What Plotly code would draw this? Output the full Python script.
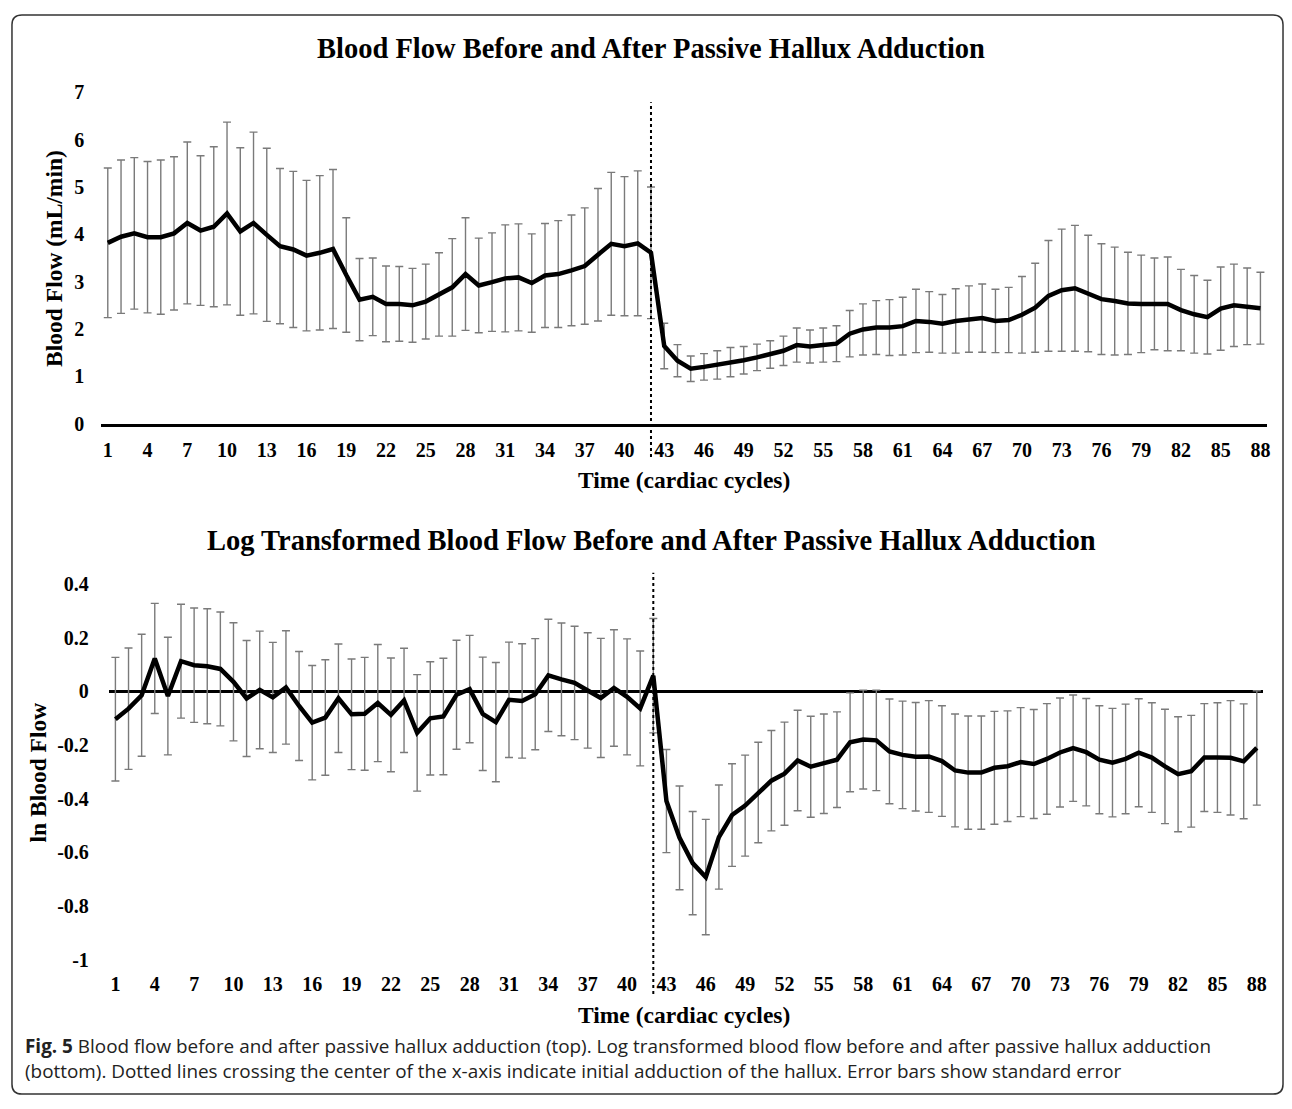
import plotly.graph_objects as go

# ---------------- data ----------------
CYCLES = list(range(1, 89))
X_TICKS = [1, 4, 7, 10, 13, 16, 19, 22, 25, 28, 31, 34, 37, 40, 43, 46, 49, 52, 55, 58,
           61, 64, 67, 70, 73, 76, 79, 82, 85, 88]
ADDUCTION_CYCLE = 42

FLOW_MEAN = [3.82, 3.95, 4.02, 3.94, 3.94, 4.02, 4.24, 4.08, 4.16, 4.44,
             4.06, 4.24, 3.99, 3.75, 3.68, 3.55, 3.61, 3.69, 3.14, 2.62,
             2.68, 2.53, 2.53, 2.50, 2.58, 2.73, 2.88, 3.16, 2.92, 2.99,
             3.07, 3.09, 2.97, 3.13, 3.16, 3.24, 3.33, 3.57, 3.80, 3.75,
             3.81, 3.61, 1.64, 1.33, 1.16, 1.20, 1.24, 1.30, 1.34, 1.40,
             1.46, 1.54, 1.66, 1.63, 1.66, 1.69, 1.90, 1.99, 2.03, 2.03,
             2.06, 2.17, 2.15, 2.11, 2.17, 2.21, 2.23, 2.17, 2.19, 2.30,
             2.45, 2.70, 2.82, 2.86, 2.75, 2.63, 2.59, 2.54, 2.53, 2.53,
             2.53, 2.40, 2.31, 2.25, 2.43, 2.50, 2.48, 2.44]
FLOW_SE = [1.58, 1.62, 1.60, 1.60, 1.63, 1.62, 1.71, 1.58, 1.69, 1.93,
           1.77, 1.92, 1.83, 1.64, 1.65, 1.59, 1.63, 1.68, 1.21, 0.87,
           0.82, 0.80, 0.79, 0.78, 0.79, 0.88, 1.03, 1.19, 1.00, 1.04,
           1.13, 1.13, 1.04, 1.10, 1.13, 1.17, 1.23, 1.40, 1.51, 1.47,
           1.53, 1.39, 0.48, 0.34, 0.27, 0.28, 0.30, 0.31, 0.29, 0.28,
           0.29, 0.31, 0.36, 0.35, 0.36, 0.38, 0.49, 0.54, 0.57, 0.59,
           0.61, 0.67, 0.64, 0.62, 0.68, 0.70, 0.72, 0.67, 0.69, 0.81,
           0.94, 1.17, 1.29, 1.33, 1.23, 1.17, 1.14, 1.08, 1.03, 0.97,
           0.99, 0.86, 0.82, 0.78, 0.88, 0.87, 0.81, 0.76]

LN_MEAN = [-0.104, -0.065, -0.015, 0.122, -0.018, 0.112, 0.097, 0.093, 0.083, 0.035,
           -0.027, 0.005, -0.023, 0.014, -0.055, -0.117, -0.098, -0.026, -0.086, -0.084,
           -0.044, -0.088, -0.034, -0.155, -0.101, -0.094, -0.013, 0.008, -0.084, -0.115,
           -0.032, -0.036, -0.011, 0.059, 0.044, 0.031, 0.003, -0.025, 0.012, -0.021,
           -0.064, 0.058, -0.409, -0.546, -0.640, -0.692, -0.543, -0.461, -0.426, -0.377,
           -0.333, -0.307, -0.258, -0.281, -0.270, -0.255, -0.190, -0.180, -0.183, -0.224,
           -0.237, -0.244, -0.243, -0.260, -0.295, -0.303, -0.303, -0.285, -0.279, -0.264,
           -0.271, -0.252, -0.228, -0.212, -0.227, -0.255, -0.266, -0.252, -0.229, -0.247,
           -0.280, -0.309, -0.298, -0.247, -0.247, -0.248, -0.261, -0.211]
LN_SE = [0.230, 0.226, 0.227, 0.205, 0.219, 0.212, 0.213, 0.214, 0.212, 0.220,
         0.216, 0.219, 0.205, 0.211, 0.203, 0.213, 0.215, 0.202, 0.206, 0.210,
         0.218, 0.212, 0.194, 0.217, 0.211, 0.217, 0.203, 0.200, 0.211, 0.222,
         0.215, 0.213, 0.207, 0.209, 0.210, 0.211, 0.215, 0.222, 0.217, 0.216,
         0.214, 0.213, 0.192, 0.193, 0.192, 0.215, 0.194, 0.191, 0.188, 0.187,
         0.187, 0.192, 0.187, 0.188, 0.185, 0.178, 0.184, 0.184, 0.187, 0.195,
         0.200, 0.202, 0.208, 0.206, 0.210, 0.211, 0.211, 0.210, 0.206, 0.203,
         0.203, 0.206, 0.203, 0.198, 0.200, 0.201, 0.202, 0.204, 0.201, 0.204,
         0.213, 0.214, 0.208, 0.201, 0.204, 0.213, 0.214, 0.213]

TOP_Y_TICKS = [0, 1, 2, 3, 4, 5, 6, 7]
BOT_Y_TICKS = [-1, -0.8, -0.6, -0.4, -0.2, 0, 0.2, 0.4]
BOT_Y_LABELS = ["-1", "-0.8", "-0.6", "-0.4", "-0.2", "0", "0.2", "0.4"]

TITLE_TOP = "Blood Flow Before and After Passive Hallux Adduction"
TITLE_BOT = "Log Transformed Blood Flow Before and After Passive Hallux Adduction"
YTITLE_TOP = "Blood Flow (mL/min)"
YTITLE_BOT = "ln Blood Flow"
XTITLE = "Time (cardiac cycles)"
CAPTION_1 = ("<b>Fig. 5</b> Blood flow before and after passive hallux adduction (top). "
             "Log transformed blood flow before and after passive hallux adduction")
CAPTION_2 = ("(bottom). Dotted lines crossing the center of the x-axis indicate initial "
             "adduction of the hallux. Error bars show standard error")

# ---------------- layout helpers ----------------
W, H = 1292, 1109
SERIF = "Liberation Serif, Times New Roman, serif"
SANS = "Open Sans, Noto Sans, sans-serif"


def px(x):
    return x / W


def py(y):
    return 1 - y / H


ERR_COLOR = "#7a7a7a"
LINE_COLOR = "#000000"

fig = go.Figure()

# top chart: error bars, then mean line on top
fig.add_trace(go.Scatter(
    x=CYCLES, y=FLOW_MEAN, mode="markers", marker=dict(size=1, opacity=0),
    error_y=dict(type="data", array=FLOW_SE, visible=True, color=ERR_COLOR,
                 thickness=1.4, width=4),
    xaxis="x", yaxis="y", showlegend=False, hoverinfo="skip"))
fig.add_trace(go.Scatter(
    x=CYCLES, y=FLOW_MEAN, mode="lines", line=dict(color=LINE_COLOR, width=4.5),
    xaxis="x", yaxis="y", showlegend=False))

# bottom chart
fig.add_trace(go.Scatter(
    x=CYCLES, y=LN_MEAN, mode="markers", marker=dict(size=1, opacity=0),
    error_y=dict(type="data", array=LN_SE, visible=True, color=ERR_COLOR,
                 thickness=1.4, width=4),
    xaxis="x2", yaxis="y2", showlegend=False, hoverinfo="skip"))
fig.add_trace(go.Scatter(
    x=CYCLES, y=LN_MEAN, mode="lines", line=dict(color=LINE_COLOR, width=4.5),
    xaxis="x2", yaxis="y2", showlegend=False))

tick_font = dict(family=SERIF, size=20, color="#000000", weight="bold")
xtick_labels = [str(v) for v in X_TICKS]

fig.update_layout(
    width=W, height=H,
    margin=dict(l=0, r=0, t=0, b=0),
    paper_bgcolor="white", plot_bgcolor="white",
    showlegend=False,
    xaxis=dict(domain=[px(101.4), px(1270)], range=[0.5, 88.5], anchor="y",
               tickmode="array", tickvals=X_TICKS, ticktext=xtick_labels,
               showgrid=False, zeroline=False, showline=True, linecolor="#000000",
               linewidth=3, ticks="outside", ticklen=6, tickcolor="rgba(0,0,0,0)",
               tickfont=tick_font),
    yaxis=dict(domain=[py(421), py(83)], range=[0, 7], anchor="x",
               tickmode="array", tickvals=TOP_Y_TICKS,
               showgrid=False, zeroline=False, showline=False,
               ticks="outside", ticklen=12, tickcolor="rgba(0,0,0,0)",
               tickfont=tick_font),
    xaxis2=dict(domain=[px(109.1), px(1266.3)], range=[0.5, 88.5], anchor="y2",
                tickmode="array", tickvals=X_TICKS, ticktext=xtick_labels,
                showgrid=False, zeroline=False, showline=False,
                ticks="outside", ticklen=6, tickcolor="rgba(0,0,0,0)",
                tickfont=tick_font),
    yaxis2=dict(domain=[py(968), py(584.4)], range=[-1, 0.4], anchor="x2",
                tickmode="array", tickvals=BOT_Y_TICKS, ticktext=BOT_Y_LABELS,
                showgrid=False, zeroline=True, zerolinecolor="#000000",
                zerolinewidth=3, showline=False,
                ticks="outside", ticklen=15, tickcolor="rgba(0,0,0,0)",
                tickfont=tick_font),
)

ann = []


def add_text(text, x, y, size, font=SERIF, xanchor="center", angle=0, color="#000000",
             align="center"):
    ann.append(dict(text=text, x=px(x), y=py(y), xref="paper", yref="paper",
                    xanchor=xanchor, yanchor="middle", showarrow=False, align=align,
                    textangle=angle, font=dict(family=font, size=size, color=color)))


add_text("<b>%s</b>" % TITLE_TOP, 653, 38, 28.5)
add_text("<b>%s</b>" % TITLE_BOT, 653, 540, 28.5)
add_text("<b>%s</b>" % YTITLE_TOP, 54, 252, 23.5, angle=-90)
add_text("<b>%s</b>" % YTITLE_BOT, 38, 777, 23.5, angle=-90)
add_text("<b>%s</b>" % XTITLE, 686, 478, 23.5)
add_text("<b>%s</b>" % XTITLE, 686, 1024, 23.5)
# two-line caption as one text block
add_text(CAPTION_1 + "<br>" + CAPTION_2, 23, 1068.5, 18.9, font=SANS,
         xanchor="left", color="#222222", align="left")
fig.update_layout(annotations=ann)

# dotted lines marking initial adduction
shapes = [
    dict(type="line", xref="x", yref="paper", x0=ADDUCTION_CYCLE, x1=ADDUCTION_CYCLE,
         y0=py(455), y1=py(93), line=dict(color="#000000", width=2, dash="dot")),
    dict(type="line", xref="x2", yref="paper", x0=ADDUCTION_CYCLE, x1=ADDUCTION_CYCLE,
         y0=py(1003), y1=py(573), line=dict(color="#000000", width=2, dash="dot")),
]

# rounded frame around the figure
L, R, T, B, r = 12, 1286, 4, 1105, 10
path = (f"M {px(L + r)},{py(T)} L {px(R - r)},{py(T)} Q {px(R)},{py(T)} {px(R)},{py(T + r)} "
        f"L {px(R)},{py(B - r)} Q {px(R)},{py(B)} {px(R - r)},{py(B)} "
        f"L {px(L + r)},{py(B)} Q {px(L)},{py(B)} {px(L)},{py(B - r)} "
        f"L {px(L)},{py(T + r)} Q {px(L)},{py(T)} {px(L + r)},{py(T)} Z")
shapes.append(dict(type="path", xref="paper", yref="paper", path=path,
                   line=dict(color="#333333", width=1.5)))
fig.update_layout(shapes=shapes)

fig.write_html(
    "out.html",
    config={"displayModeBar": False},
    post_script="document.body.style.margin='0';document.body.style.overflow='hidden';",
)
